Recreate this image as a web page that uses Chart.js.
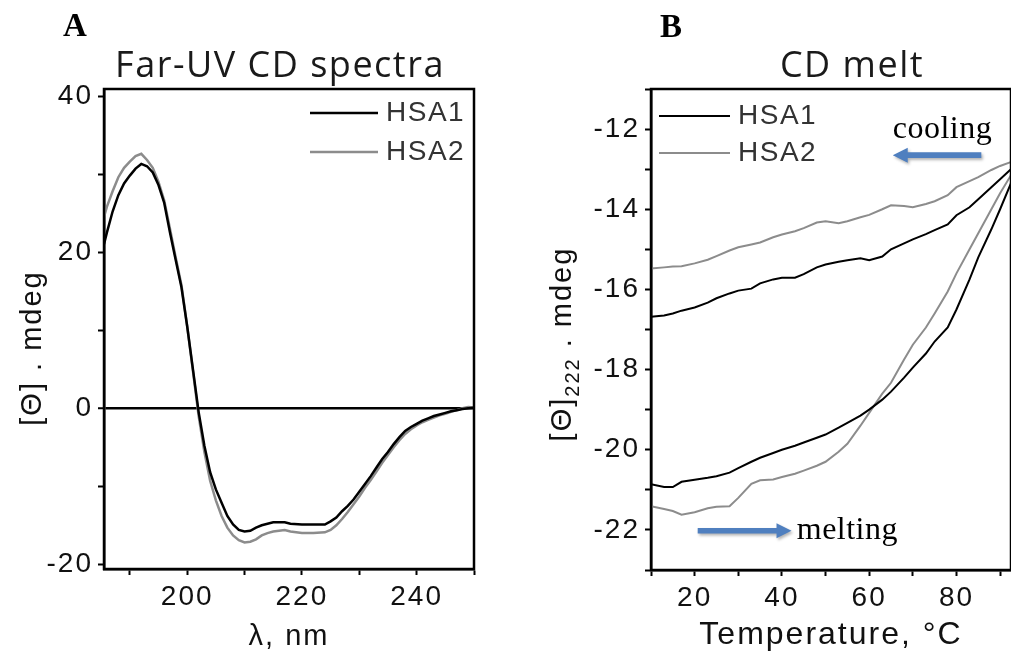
<!DOCTYPE html>
<html>
<head>
<meta charset="utf-8">
<script src="https://cdn.jsdelivr.net/npm/chart.js@4.4.1/dist/chart.umd.min.js"></script>
<style>
  html, body { margin: 0; padding: 0; background: #fff; }
  body { width: 1011px; height: 658px; position: relative; overflow: hidden; }
  canvas { position: absolute; top: 0; }
  #chartA { left: 0; }
  #chartB { left: 500px; }
</style>
</head>
<body>
<canvas id="chartA" width="500" height="658"></canvas>
<canvas id="chartB" width="511" height="658"></canvas>
<script>
// ---- panel A: far-UV CD spectra (mdeg vs wavelength, nm)
const wavelength = [185.5, 186, 187, 188, 189, 190, 191, 192, 193, 194, 195, 196, 197, 198, 199,
  200, 201, 202, 203, 204, 205, 206, 207, 208, 209, 210, 211, 212, 213, 214, 215, 216, 217, 218,
  220, 222, 224, 225, 226, 227, 228, 229, 230, 231, 232, 233, 234, 235, 236, 237, 238, 239, 240,
  241, 242, 243, 244, 245, 246, 247, 248, 249, 250];
const hsa1Spectrum = [21, 22.5, 25.2, 27.3, 28.8, 29.8, 30.7, 31.3, 31.0, 30.2, 28.6, 26.3, 22.5, 19.0, 15.5,
  10.5, 5.0, -0.5, -4.8, -8.2, -10.4, -12.1, -13.8, -14.9, -15.6, -15.8, -15.7, -15.3, -15.0, -14.8, -14.6, -14.6, -14.6, -14.8,
  -14.9, -14.9, -14.9, -14.5, -14.0, -13.2, -12.5, -11.7, -10.7, -9.7, -8.7, -7.6, -6.5, -5.6, -4.6, -3.7, -2.9, -2.4, -2.0,
  -1.6, -1.3, -1.0, -0.8, -0.6, -0.4, -0.25, -0.1, 0, 0.05];
const hsa2Spectrum = [24.5, 25.8, 27.8, 29.6, 30.8, 31.6, 32.3, 32.6, 31.8, 30.8, 29.0, 26.6, 23.0, 19.3, 15.8,
  10.5, 4.8, -1.0, -5.6, -9.3, -11.8, -13.8, -15.3, -16.3, -16.9, -17.2, -17.1, -16.8, -16.3, -16.0, -15.8, -15.7, -15.6, -15.8,
  -16.0, -16.0, -15.9, -15.6, -15.0, -14.2, -13.3, -12.3, -11.3, -10.2, -9.2, -8.1, -7.0, -6.0, -5.0, -4.1, -3.3, -2.7, -2.2,
  -1.8, -1.5, -1.2, -0.9, -0.7, -0.45, -0.25, 0, 0.15, 0.1];

// ---- panel B: CD melt at 222 nm, heated up then cooled back down
const meltTemp = [10, 13, 15, 17, 20, 23, 25, 28, 30, 33, 35, 38, 40, 43, 45, 48, 50,
  53, 55, 58, 60, 63, 65, 68, 70, 73, 75, 78, 80, 83, 85, 88, 90, 92.5];
const hsa1Heat = [-20.86, -20.93, -20.93, -20.8, -20.75, -20.7, -20.66, -20.57, -20.46, -20.3, -20.2, -20.08, -20.0, -19.9, -19.82, -19.7, -19.62,
  -19.45, -19.33, -19.15, -19.0, -18.75, -18.55, -18.2, -17.95, -17.6, -17.3, -16.95, -16.5, -15.75, -15.2, -14.5, -14.0, -13.35];
const hsa1Cool = [-16.68, -16.65, -16.6, -16.53, -16.45, -16.33, -16.22, -16.1, -16.03, -15.98, -15.85, -15.75, -15.71, -15.71, -15.62, -15.45, -15.38,
  -15.31, -15.27, -15.22, -15.27, -15.18, -15.0, -14.85, -14.75, -14.62, -14.52, -14.38, -14.15, -13.95, -13.75, -13.45, -13.25, -13.0];
const hsa2Heat = [-21.41, -21.48, -21.53, -21.62, -21.56, -21.46, -21.42, -21.41, -21.2, -20.85, -20.76, -20.74, -20.68, -20.6, -20.52, -20.4, -20.3,
  -20.05, -19.85, -19.4, -19.08, -18.6, -18.33, -17.75, -17.38, -16.95, -16.6, -16.05, -15.6, -15.0, -14.6, -14.0, -13.6, -13.15];
const hsa2Cool = [-15.48, -15.45, -15.43, -15.42, -15.35, -15.26, -15.17, -15.03, -14.95, -14.88, -14.83, -14.7, -14.63, -14.55, -14.47, -14.33, -14.3,
  -14.35, -14.3, -14.2, -14.14, -14.0, -13.9, -13.92, -13.95, -13.87, -13.8, -13.65, -13.45, -13.3, -13.2, -13.02, -12.92, -12.82];

const seriesNames = ['HSA1', 'HSA2'];
const seriesColors = ['#000000', '#8c8c8c'];

const SANS = "'Liberation Sans', Arial, sans-serif";
const SERIF = "'Liberation Serif', 'Times New Roman', serif";
const INK = '#111';

function pairs(xs, ys) {
  return xs.map((x, i) => ({ x: x, y: ys[i] }));
}
// heating run followed by the cooling run, as one trace
function meltLoop(heat, cool) {
  return pairs(meltTemp, heat).concat(pairs(meltTemp, cool).reverse());
}

function drawArrow(ctx, x0, x1, y) {
  const dir = Math.sign(x1 - x0);
  const head = 15, half = 7.5, shaft = 2.8;
  ctx.save();
  ctx.fillStyle = '#4f7fbf';
  ctx.shadowColor = 'rgba(0,0,0,0.3)';
  ctx.shadowBlur = 3;
  ctx.shadowOffsetX = 1.5;
  ctx.shadowOffsetY = 2;
  ctx.beginPath();
  ctx.moveTo(x0, y - shaft);
  ctx.lineTo(x1 - dir * head, y - shaft);
  ctx.lineTo(x1 - dir * head, y - half);
  ctx.lineTo(x1, y);
  ctx.lineTo(x1 - dir * head, y + half);
  ctx.lineTo(x1 - dir * head, y + shaft);
  ctx.lineTo(x0, y + shaft);
  ctx.closePath();
  ctx.fill();
  ctx.restore();
}

// frame, panel letter, title, legend, extra labels
function makeDecor(cfg) {
  return {
    id: 'decor',
    beforeDraw(chart) {
      chart.ctx.letterSpacing = '2px';
    },
    afterDatasetsDraw(chart) {
      const { ctx, chartArea: a } = chart;
      ctx.save();
      ctx.strokeStyle = '#000';
      ctx.lineWidth = 2.5;
      ctx.strokeRect(a.left, a.top, a.right - a.left, a.bottom - a.top);
      ctx.restore();
    },
    afterDraw(chart) {
      const ctx = chart.ctx;
      const xs = chart.scales.x, ys = chart.scales.y;
      ctx.save();
      ctx.textBaseline = 'alphabetic';

      // panel letter
      ctx.letterSpacing = '0px';
      ctx.fillStyle = '#000';
      ctx.font = 'bold 33px ' + SERIF;
      ctx.textAlign = 'left';
      ctx.fillText(cfg.letter, cfg.letterPos[0], cfg.letterPos[1]);

      // title
      ctx.letterSpacing = '1.5px';
      ctx.fillStyle = '#1a1a1a';
      ctx.font = "36px 'Open Sans', " + SANS;
      ctx.textAlign = 'center';
      ctx.fillText(cfg.title, cfg.titlePos[0], cfg.titlePos[1]);

      // legend
      ctx.font = '28px ' + SANS;
      ctx.letterSpacing = '1.5px';
      ctx.textAlign = 'left';
      ctx.textBaseline = 'middle';
      seriesNames.forEach((name, i) => {
        const y = cfg.legend.y + i * cfg.legend.gap;
        ctx.strokeStyle = seriesColors[i];
        ctx.lineWidth = cfg.lineWidth;
        ctx.beginPath();
        ctx.moveTo(cfg.legend.x, y);
        ctx.lineTo(cfg.legend.x + cfg.legend.len, y);
        ctx.stroke();
        ctx.fillStyle = '#333';
        ctx.fillText(name, cfg.legend.x + cfg.legend.len + 8, y);
      });

      // rotated y title, optional subscript
      if (cfg.yTitle) {
        const t = cfg.yTitle;
        ctx.translate(t.x, t.y);
        ctx.rotate(-Math.PI / 2);
        ctx.fillStyle = INK;
        ctx.textBaseline = 'alphabetic';
        ctx.letterSpacing = '2px';
        const big = '29px ' + SANS, small = '20px ' + SANS;
        ctx.font = big;
        const w1 = ctx.measureText(t.main).width;
        const w3 = ctx.measureText(t.tail).width;
        ctx.font = small;
        const w2 = ctx.measureText(t.sub).width;
        let x = -(w1 + w2 + w3) / 2;
        ctx.font = big;
        ctx.fillText(t.main, x, 10);
        x += w1;
        ctx.font = small;
        ctx.fillText(t.sub, x, 18);
        x += w2;
        ctx.font = big;
        ctx.fillText(t.tail, x, 10);
        ctx.setTransform(1, 0, 0, 1, 0, 0);
      }

      // arrows with their captions
      (cfg.notes || []).forEach(n => {
        const y = ys.getPixelForValue(n.arrowY);
        drawArrow(ctx, xs.getPixelForValue(n.from), xs.getPixelForValue(n.to), y);
        ctx.fillStyle = '#000';
        ctx.letterSpacing = '0.5px';
        ctx.font = '32px ' + SERIF;
        ctx.textAlign = 'left';
        ctx.textBaseline = 'alphabetic';
        ctx.fillText(n.text, xs.getPixelForValue(n.textX), ys.getPixelForValue(n.textY));
      });
      ctx.restore();
    }
  };
}

function axisBase(extra) {
  return Object.assign({
    type: 'linear',
    border: { display: true, color: '#000', width: 2.5 },
    grid: { drawOnChartArea: false, color: '#000', tickColor: '#000', tickLength: 6, tickWidth: 2 },
  }, extra);
}

function tickFont(size) {
  return { family: SANS, size: size };
}

// ---- chart A
new Chart(document.getElementById('chartA'), {
  type: 'scatter',
  data: {
    datasets: [
      { label: seriesNames[0], data: pairs(wavelength, hsa1Spectrum), borderColor: seriesColors[0], borderWidth: 2.5, showLine: true, pointRadius: 0, order: 1 },
      { label: seriesNames[1], data: pairs(wavelength, hsa2Spectrum), borderColor: seriesColors[1], borderWidth: 2.5, showLine: true, pointRadius: 0, order: 2 }
    ]
  },
  options: {
    responsive: false,
    animation: false,
    layout: { padding: { left: 0, top: 89, right: 26, bottom: 0 } },
    plugins: { legend: { display: false }, tooltip: { enabled: false } },
    scales: {
      x: axisBase({
        min: 185.5, max: 250,
        ticks: { stepSize: 10, includeBounds: false, autoSkip: false, maxRotation: 0, color: INK, font: tickFont(28), padding: 5,
          callback: v => (v % 20 === 0 ? String(v) : '') },
        title: { display: true, text: 'λ, nm', color: INK, font: { family: SANS, size: 29 }, padding: { top: 0, bottom: 4 } },
        afterFit: s => { s.height = 89; }
      }),
      y: axisBase({
        min: -20.6, max: 40.9,
        grid: {
          drawOnChartArea: true, tickLength: 6, tickWidth: 2, tickColor: '#000',
          color: c => (c.tick && c.tick.value === 0 ? '#000' : 'rgba(0,0,0,0)'),
          lineWidth: c => (c.tick && c.tick.value === 0 ? 2.5 : 1)
        },
        ticks: { stepSize: 10, includeBounds: false, autoSkip: false, color: INK, font: tickFont(28), padding: 5,
          callback: v => (v % 20 === 0 ? String(v) : '') },
        afterFit: s => { s.width = 104; }
      })
    }
  },
  plugins: [makeDecor({
    letter: 'A', letterPos: [63, 36],
    title: 'Far-UV CD spectra', titlePos: [280, 77],
    lineWidth: 2.5,
    legend: { x: 310, y: 113, gap: 39, len: 68 },
    yTitle: { x: 31, y: 348, main: '[Θ] . mdeg', sub: '', tail: '' }
  })]
});

// ---- chart B
new Chart(document.getElementById('chartB'), {
  type: 'scatter',
  data: {
    datasets: [
      { label: seriesNames[0], data: meltLoop(hsa1Heat, hsa1Cool), borderColor: seriesColors[0], borderWidth: 2, showLine: true, pointRadius: 0, order: 1 },
      { label: seriesNames[1], data: meltLoop(hsa2Heat, hsa2Cool), borderColor: seriesColors[1], borderWidth: 2, showLine: true, pointRadius: 0, order: 2 }
    ]
  },
  options: {
    responsive: false,
    animation: false,
    layout: { padding: { left: 0, top: 89, right: 0, bottom: 0 } },
    plugins: { legend: { display: false }, tooltip: { enabled: false } },
    scales: {
      x: axisBase({
        min: 10, max: 92.5,
        ticks: { stepSize: 10, includeBounds: false, autoSkip: false, maxRotation: 0, color: INK, font: tickFont(28), padding: 5,
          callback: v => (v % 20 === 0 ? String(v) : '') },
        title: { display: true, text: 'Temperature, °C', color: INK, font: { family: SANS, size: 32 }, padding: { top: 0, bottom: 4 } },
        afterFit: s => { s.height = 88; }
      }),
      y: axisBase({
        min: -23, max: -11,
        ticks: { stepSize: 1, includeBounds: false, autoSkip: false, color: INK, font: tickFont(28), padding: 5,
          callback: v => (v % 2 === 0 ? String(v) : '') },
        afterFit: s => { s.width = 151; }
      })
    }
  },
  plugins: [makeDecor({
    letter: 'B', letterPos: [160, 37],
    title: 'CD melt', titlePos: [352, 77],
    lineWidth: 2,
    legend: { x: 159, y: 116, gap: 37, len: 71 },
    yTitle: { x: 61, y: 344, main: '[Θ]', sub: '222', tail: ' . mdeg' },
    notes: [
      { text: 'cooling', from: 85.7, to: 65.4, arrowY: -12.65, textX: 65.4, textY: -12.22 },
      { text: 'melting', from: 20.7, to: 42.2, arrowY: -22.02, textX: 43.4, textY: -22.22 }
    ]
  })]
});
</script>
</body>
</html>
